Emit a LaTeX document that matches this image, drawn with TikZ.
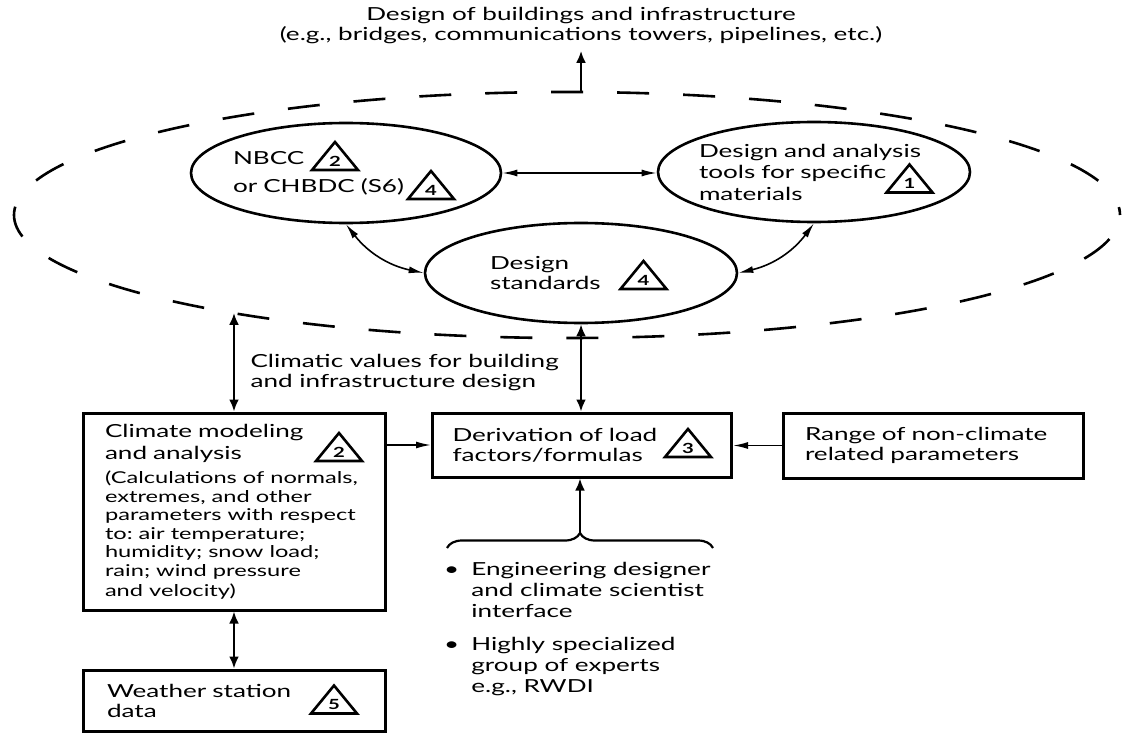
\documentclass[tikz,border=0pt]{standalone}
\usepackage{fontspec}
\setmainfont{Lato}[FakeStretch=1.45]
\usetikzlibrary{shapes.geometric,arrows.meta,decorations.pathreplacing}
\hyphenpenalty=10000
\exhyphenpenalty=10000
\frenchspacing

\begin{document}
\begin{tikzpicture}[x=1pt, y=-1pt,
  font=\fontsize{18}{20}\selectfont,
  box/.style={rectangle, draw, line width=3pt, align=left, inner ysep=0pt},
  oval/.style={ellipse, draw, line width=2.6pt, minimum width=310pt, minimum height=100pt,
    inner xsep=-20pt, inner ysep=0pt, align=left},
  link/.style={-{Latex[length=15pt,width=7pt]}, line width=1.6pt},
  dlink/.style={{Latex[length=15pt,width=7pt]}-{Latex[length=15pt,width=7pt]}, line width=1.6pt},
  feed/.style={-{Latex[length=12pt,width=10pt]}, line width=2.8pt},
  dfeed/.style={{Latex[length=12pt,width=10pt]}-{Latex[length=12pt,width=10pt]}, line width=2.8pt},
  pics/mark/.style={code={
    \draw[line width=2.6pt, line join=miter] (-23,14) -- (0,-14) -- (23,14) -- cycle;
    \node[font=\fontsize{14}{14}\selectfont\bfseries, inner sep=0pt] (-n) at (0,5) {#1};}}]
\useasboundingbox (0,0) rectangle (1133,733);

% dashed scope round the codes
\node[ellipse, draw, line width=2.6pt, dash pattern=on 32pt off 34pt, dash phase=24pt,
  minimum width=1106pt, minimum height=246pt, inner sep=0pt] (frame) at (567,215) {};

\node[align=center] (goal) at (581,26) {Design of buildings and infrastructure\\(e.g., bridges, communications towers, pipelines, etc.)};

% codes and tools
\node[oval, text width=226pt] (nbcc) at (346,173) {NBCC\\[8pt]or CHBDC (S6)};
\node[oval, text width=230pt, minimum width=312pt, font=\fontsize{18}{21.5}\selectfont] (tools) at (814,172) {Design and analysis\\tools for specific\\materials};
\node[oval, text width=182pt, minimum width=312pt] (std) at (581,273) {Design\\standards};

\node[align=left, anchor=west] (values) at (247,373) {Climatic values for building\\and infrastructure design};

% boxes
\node[box, text width=258pt, inner xsep=22pt, minimum height=197pt] (climate) at (234,511.5)
  {Climate modeling\\[2.5pt]and analysis\\[5.5pt]\fontsize{16.3}{18.5}\selectfont(Calculations of normals,\\extremes, and other\\parameters with respect\\to: air temperature;\\humidity; snow load;\\rain; wind pressure\\and velocity)};
\node[box, text width=259pt, inner xsep=20pt, minimum height=64pt] (deriv) at (582,445) {Derivation of load\\factors/formulas};
\node[box, text width=256pt, inner xsep=22pt, minimum height=65pt] (range) at (933,445.5) {Range of non-climate\\related parameters};
\node[box, text width=254pt, inner xsep=24pt, minimum height=61pt] (weather) at (234,700.5) {Weather station\\data};

\node[anchor=base west, inner sep=0pt, font=\fontsize{18}{21}\selectfont] (team) at (444,575.5)
  {\begin{tabular}[t]{@{}l@{\hspace{12pt}}l@{}}
   \textbullet & Engineering designer\\
               & and climate scientist\\
               & interface\\[12pt]
   \textbullet & Highly specialized\\
               & group of experts\\
               & e.g., RWDI
   \end{tabular}};

% brace under the derivation box
\draw[line width=2.2pt, decorate, decoration={brace, amplitude=15pt}] (447,548) -- (713,548);
\coordinate (tip) at (580,533);

% triangles
\pic (t1) at (909.5,178.5) {mark=1};
\pic (t2a) at (335,156) {mark=2};
\pic (t4a) at (431,185) {mark=4};
\pic (t4b) at (643.5,275) {mark=4};
\pic (t2b) at (339,447) {mark=2};
\pic (t3) at (688,443) {mark=3};
\pic (t5) at (334,699.5) {mark=5};

% connectors
\draw[feed, shorten >=3pt] (frame.north -| goal.south) -- (goal.south);
\draw[dlink] (nbcc.east) -- (nbcc.east -| tools.west);
\draw[dlink] (nbcc.south) to[bend right=20] (std.west);
\draw[dlink] (tools.south) to[bend left=20] (std.east);
\draw[dfeed] (frame.196.4 -| climate.north) -- (climate.north);
\draw[dfeed] (std.south) -- (std.south |- deriv.north);
\draw[link] (climate.east |- deriv.west) -- (deriv.west);
\draw[link] (range.west) -- (range.west -| deriv.east);
\draw[feed] (tip) -- (tip |- deriv.south);
\draw[dfeed] (climate.south) -- (weather.north);
\end{tikzpicture}
\end{document}
